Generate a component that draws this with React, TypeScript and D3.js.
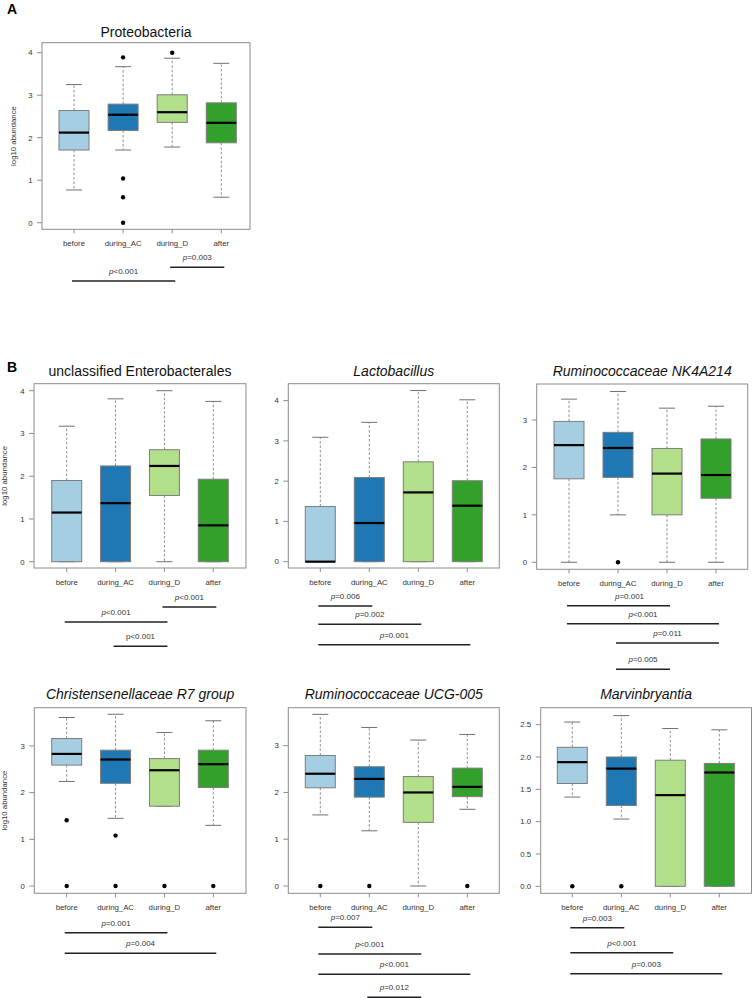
import React from "react";
import * as d3 from "d3";

// ---------- data ----------
const groups = ["before", "during_AC", "during_D", "after"];
const groupColors = ["#a6cee3", "#1f78b4", "#b2df8a", "#33a02c"];

// stats per group: [lower whisker, Q1, median, Q3, upper whisker]
const proteobacteriaStats = [[0.77, 1.71, 2.12, 2.64, 3.25], [1.71, 2.17, 2.54, 2.79, 3.67], [1.78, 2.36, 2.6, 3.01, 3.87], [0.6, 1.88, 2.35, 2.82, 3.75]];
const proteobacteriaOutliers = [[], [3.89, 1.04, 0.6, 0], [4.0], []];
const proteobacteriaPLabels = ["=0.003", "<0.001"];
const proteobacteriaPairs = [[2, 3], [0, 2]];

const enterobacteralesStats = [[0, 0, 1.15, 1.9, 3.17], [0, 0, 1.37, 2.24, 3.81], [0, 1.55, 2.24, 2.62, 4.0], [0, 0, 0.85, 1.93, 3.75]];
const enterobacteralesOutliers = [[], [], [], []];
const enterobacteralesPLabels = ["<0.001", "<0.001", "<0.001"];
const enterobacteralesPairs = [[2, 3], [0, 2], [1, 2]];

const lactobacillusStats = [[0, 0, 0, 1.37, 3.09], [0, 0, 0.96, 2.09, 3.46], [0, 0, 1.72, 2.48, 4.25], [0, 0, 1.39, 2.01, 4.02]];
const lactobacillusOutliers = [[], [], [], []];
const lactobacillusPLabels = ["=0.006", "=0.002", "=0.001"];
const lactobacillusPairs = [[0, 1], [0, 2], [0, 3]];

const nk4a214Stats = [[0, 1.76, 2.47, 2.97, 3.44], [1.0, 1.79, 2.41, 2.74, 3.6], [0, 1.0, 1.87, 2.4, 3.25], [0, 1.35, 1.84, 2.6, 3.29]];
const nk4a214Outliers = [[], [0], [], []];
const nk4a214PLabels = ["=0.001", "<0.001", "=0.011", "=0.005"];
const nk4a214Pairs = [[0, 2], [0, 3], [1, 3], [1, 2]];

const christensenellaceaeStats = [[2.24, 2.59, 2.83, 3.16, 3.61], [1.45, 2.2, 2.71, 2.91, 3.68], [1.71, 1.71, 2.48, 2.73, 3.29], [1.3, 2.11, 2.61, 2.91, 3.54]];
const christensenellaceaeOutliers = [[1.41, 0], [1.08, 0], [0], [0]];
const christensenellaceaePLabels = ["=0.001", "=0.004"];
const christensenellaceaePairs = [[0, 2], [0, 3]];

const ucg005Stats = [[1.52, 2.1, 2.4, 2.79, 3.67], [1.18, 1.9, 2.29, 2.55, 3.39], [0, 1.36, 2.0, 2.34, 3.12], [1.64, 1.91, 2.12, 2.52, 3.24]];
const ucg005Outliers = [[0], [0], [], [0]];
const ucg005PLabels = ["=0.007", "<0.001", "<0.001", "=0.012"];
const ucg005Pairs = [[0, 1], [0, 2], [0, 3], [1, 2]];

const marvinbryantiaStats = [[1.38, 1.59, 1.92, 2.15, 2.54], [1.04, 1.25, 1.82, 2.0, 2.64], [0, 0, 1.41, 1.95, 2.44], [0, 0, 1.76, 1.9, 2.42]];
const marvinbryantiaOutliers = [[0], [0], [], []];
const marvinbryantiaPLabels = ["=0.003", "<0.001", "=0.003"];
const marvinbryantiaPairs = [[0, 1], [0, 2], [0, 3]];

const ticksInt4 = [0, 1, 2, 3, 4];
const ticksInt3 = [0, 1, 2, 3];
const ticksHalf = [0, 0.5, 1.0, 1.5, 2.0, 2.5];

// ---------- layout ----------
type Panel = {
  title: string; italic: boolean; stats: number[][]; outliers: number[][];
  pLabels: string[]; pairs: number[][]; pItalic?: boolean[]; pDx?: number[];
  ticks: number[]; tickFmt: (v: number) => string;
  left: number; right: number; top: number; bottom: number;
  xFirst: number; xLast: number; yDomain: [number, number];
  pLineY: number[]; titleY: number; yLabelX?: number;
};

const intFmt = (v: number) => String(v);
const oneDec = (v: number) => v.toFixed(1);

const panels: Panel[] = [
  { title: "Proteobacteria", italic: false, stats: proteobacteriaStats, outliers: proteobacteriaOutliers,
    pLabels: proteobacteriaPLabels, pairs: proteobacteriaPairs, ticks: ticksInt4, tickFmt: intFmt,
    left: 42, right: 250, top: 42.7, bottom: 229.3, xFirst: 74, xLast: 221.3, yDomain: [-0.155, 4.235],
    pLineY: [267.3, 281], titleY: 36.7, yLabelX: 15.5 },
  { title: "unclassified Enterobacterales", italic: false, stats: enterobacteralesStats, outliers: enterobacteralesOutliers,
    pLabels: enterobacteralesPLabels, pairs: enterobacteralesPairs, pItalic: [true, true, false], ticks: ticksInt4, tickFmt: intFmt,
    left: 34, right: 246, top: 383.7, bottom: 568, xFirst: 66.7, xLast: 213.3, yDomain: [-0.147, 4.164],
    pLineY: [607, 622, 646.3], titleY: 375.5, yLabelX: 6.5 },
  { title: "Lactobacillus", italic: true, stats: lactobacillusStats, outliers: lactobacillusOutliers,
    pLabels: lactobacillusPLabels, pairs: lactobacillusPairs, ticks: ticksInt4, tickFmt: intFmt,
    left: 288.3, right: 499.3, top: 383.7, bottom: 568, xFirst: 320.3, xLast: 467.3, yDomain: [-0.157, 4.42],
    pLineY: [606, 624.3, 644.7], titleY: 375.5 },
  { title: "Ruminococcaceae NK4A214", italic: true, stats: nk4a214Stats, outliers: nk4a214Outliers,
    pLabels: nk4a214PLabels, pairs: nk4a214Pairs, pDx: [11, 0, 0, 0], ticks: ticksInt3, tickFmt: intFmt,
    left: 536.7, right: 747.7, top: 384, bottom: 569.3, xFirst: 569, xLast: 716, yDomain: [-0.148, 3.759],
    pLineY: [605.7, 623.7, 643, 669.3], titleY: 375.5 },
  { title: "Christensenellaceae R7 group", italic: true, stats: christensenellaceaeStats, outliers: christensenellaceaeOutliers,
    pLabels: christensenellaceaePLabels, pairs: christensenellaceaePairs, ticks: ticksInt3, tickFmt: intFmt,
    left: 34.3, right: 246, top: 707.7, bottom: 893.3, xFirst: 66.7, xLast: 213.3, yDomain: [-0.156, 3.82],
    pLineY: [932.7, 953.3], titleY: 698.7, yLabelX: 6.5 },
  { title: "Ruminococcaceae UCG-005", italic: true, stats: ucg005Stats, outliers: ucg005Outliers,
    pLabels: ucg005PLabels, pairs: ucg005Pairs, ticks: ticksInt3, tickFmt: intFmt,
    left: 288.3, right: 499.3, top: 707.7, bottom: 893.3, xFirst: 320.3, xLast: 467.3, yDomain: [-0.156, 3.812],
    pLineY: [927.3, 954, 974.3, 997.3], titleY: 698.7 },
  { title: "Marvinbryantia", italic: true, stats: marvinbryantiaStats, outliers: marvinbryantiaOutliers,
    pLabels: marvinbryantiaPLabels, pairs: marvinbryantiaPairs, ticks: ticksHalf, tickFmt: oneDec,
    left: 540.7, right: 751.5, top: 707.7, bottom: 893.3, xFirst: 572.3, xLast: 719.3, yDomain: [-0.108, 2.762],
    pLineY: [927.7, 952.7, 973.7], titleY: 698.7 },
];

const FONT = "'Liberation Sans', Arial, Helvetica, sans-serif";
const FRAME = "#8c8c8c";
const BOXSTROKE = "#7d7d7d";
const WHISK = "#707070";
const TXT = "#333";

function BoxPanel({ p }: { p: Panel }) {
  const y = d3.scaleLinear().domain(p.yDomain).range([p.bottom, p.top]);
  const x = d3.scaleLinear().domain([0, groups.length - 1]).range([p.xFirst, p.xLast]);
  const hw = 15;
  const cap = 8;
  return (
    <g fontFamily={FONT}>
      <text x={(p.left + p.right) / 2} y={p.titleY} textAnchor="middle" fontSize={14}
        fontStyle={p.italic ? "italic" : "normal"} fill="#111">{p.title}</text>
      {p.ticks.map((t) => (
        <g key={"yt" + t}>
          <line x1={p.left - 5} x2={p.left} y1={y(t)} y2={y(t)} stroke={FRAME} strokeWidth={1} />
          <text x={p.left - 9.5} y={y(t) + 2.8} textAnchor="end" fontSize={7.8} fill={TXT}>{p.tickFmt(t)}</text>
        </g>
      ))}
      {p.yLabelX !== undefined && (
        <text transform={`translate(${p.yLabelX},${(p.top + p.bottom) / 2}) rotate(-90)`} textAnchor="middle"
          fontSize={7.8} fill={TXT}>log10 abundance</text>
      )}
      {groups.map((g, i) => (
        <g key={"xt" + g}>
          <line x1={x(i)} x2={x(i)} y1={p.bottom} y2={p.bottom + 4} stroke={FRAME} strokeWidth={1} />
          <text x={x(i)} y={p.bottom + 16.5} textAnchor="middle" fontSize={7.8} fill={TXT}>{g}</text>
        </g>
      ))}
      {p.stats.map((s, i) => {
        const [lo, q1, med, q3, hi] = s;
        const cx = x(i);
        return (
          <g key={"box" + i}>
            <line x1={cx} x2={cx} y1={y(q3)} y2={y(hi)} stroke={WHISK} strokeWidth={0.8} strokeDasharray="2.5,2" />
            <line x1={cx} x2={cx} y1={y(q1)} y2={y(lo)} stroke={WHISK} strokeWidth={0.8} strokeDasharray="2.5,2" />
            <line x1={cx - cap} x2={cx + cap} y1={y(hi)} y2={y(hi)} stroke={WHISK} strokeWidth={1} />
            <line x1={cx - cap} x2={cx + cap} y1={y(lo)} y2={y(lo)} stroke={WHISK} strokeWidth={1} />
            <rect x={cx - hw} width={hw * 2} y={y(q3)} height={Math.max(0, y(q1) - y(q3))}
              fill={groupColors[i]} stroke={BOXSTROKE} strokeWidth={1} />
            <line x1={cx - hw} x2={cx + hw} y1={y(med)} y2={y(med)} stroke="#000" strokeWidth={2.2} />
            {p.outliers[i].map((o, k) => (
              <circle key={k} cx={cx} cy={y(o)} r={2.2} fill="#000" />
            ))}
          </g>
        );
      })}
      <rect x={p.left} y={p.top} width={p.right - p.left} height={p.bottom - p.top} fill="none" stroke={FRAME} strokeWidth={1} />
      {p.pairs.map((pr, k) => {
        const x1 = x(pr[0]) - 2;
        const x2 = x(pr[1]) + 3;
        const ly = p.pLineY[k];
        const dx = p.pDx ? p.pDx[k] : 0;
        const it = p.pItalic ? p.pItalic[k] : true;
        return (
          <g key={"p" + k}>
            <line x1={x1} x2={x2} y1={ly} y2={ly} stroke="#222" strokeWidth={1.4} />
            <text x={(x1 + x2) / 2 + dx} y={ly - 7.2} textAnchor="middle" fontSize={8} fill={TXT}>
              <tspan fontStyle={it ? "italic" : "normal"}>p</tspan>{p.pLabels[k]}
            </text>
          </g>
        );
      })}
    </g>
  );
}

export default function App() {
  return (
    <div style={{ position: "absolute", left: 0, top: 0 }}>
      <svg width={752} height={998} style={{ display: "block", background: "#fff" }}>
        <text x={7} y={14} fontFamily={FONT} fontWeight="bold" fontSize={14} fill="#000">A</text>
        <text x={7} y={372} fontFamily={FONT} fontWeight="bold" fontSize={14} fill="#000">B</text>
        {panels.map((p, i) => <BoxPanel key={i} p={p} />)}
      </svg>
    </div>
  );
}
